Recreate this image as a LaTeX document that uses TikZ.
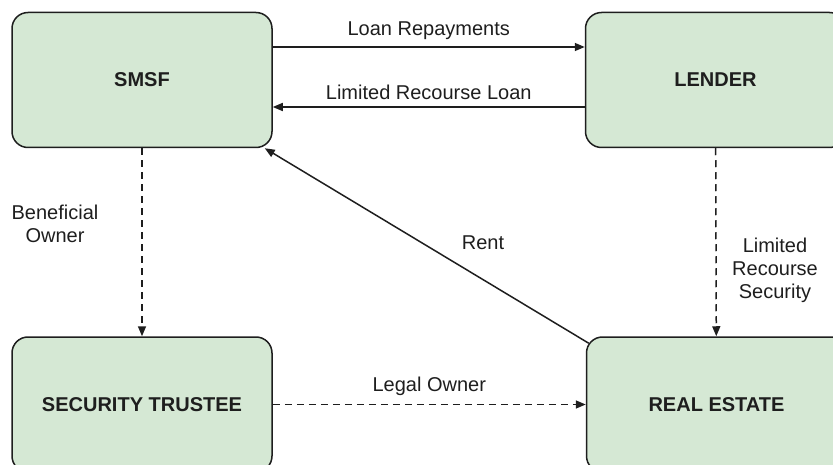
\documentclass[tikz,border=0pt]{standalone}
\usepackage{fontspec}
\setmainfont{Liberation Sans}
\usepackage{tikz}
\usetikzlibrary{arrows.meta,positioning}
\definecolor{boxgreen}{HTML}{D5E8D4}
\definecolor{inkgray}{HTML}{1E1E1E}

\begin{document}
\begin{tikzpicture}[
    x=1pt, y=-1pt,
    >={Triangle[length=10pt,width=8pt]},
    party/.style={
      rectangle,
      draw=inkgray,
      line width=1.5pt,
      fill=boxgreen,
      rounded corners=16pt,
      minimum width=260pt,
      minimum height=135pt,
      font=\fontsize{20}{24}\selectfont\bfseries,
      text=inkgray
    },
    flow/.style={->, line width=1.5pt, draw=inkgray},
    owns/.style={flow, dash pattern=on 7pt off 5pt},
    lbl/.style={font=\fontsize{20}{23}\selectfont, text=inkgray, align=center}
]

\useasboundingbox (0,0) rectangle (833,465);

\node [party] (smsf) at (142,80) {SMSF};
\node [party] (lender) [right = 312pt of smsf] {LENDER};
\node [party] (trustee) [below = 188pt of smsf] {SECURITY TRUSTEE};
\node [party] (estate) [right = 313pt of trustee] {REAL ESTATE};

%% Labels
\node [lbl] (benef) at (55,224) {Beneficial\\Owner};
\node [lbl] (secur) at (775,270) {Limited\\Recourse\\Security};
\node [lbl] (rent) at (483,243) {Rent};

%%% Arrows
\draw [flow] ([yshift=33pt]smsf.east) -- node[lbl, above=3pt] (repay) {Loan Repayments} ([yshift=33pt]lender.west);
\draw [flow] ([yshift=-27pt]lender.east -| lender.west) -- node[lbl, above=3pt] (loan) {Limited Recourse Loan} ([yshift=-27pt]smsf.east);
\draw [flow] ([xshift=3pt,yshift=-7pt]estate.north west) -- ([xshift=-8pt]smsf.south east);
\draw [owns] (smsf) -- (trustee);
\draw [owns] (lender) -- (estate);
\draw [owns] (trustee) -- node[lbl, above=5pt] (legal) {Legal Owner} (estate);

\end{tikzpicture}
\end{document}
